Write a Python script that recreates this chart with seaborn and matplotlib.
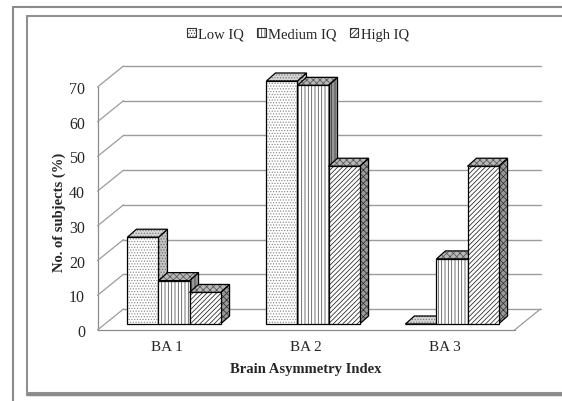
import numpy as np
import pandas as pd
import matplotlib
matplotlib.use('Agg')
import matplotlib.pyplot as plt
from matplotlib.patches import Polygon, Rectangle, Patch, ConnectionPatch
from matplotlib.lines import Line2D
from matplotlib.colors import to_hex
import seaborn as sns

# data (% of subjects)
categories = ['BA 1', 'BA 2', 'BA 3']
groups = ['Low IQ', 'Medium IQ', 'High IQ']
low_iq = [25.0, 70.0, 0.0]
medium_iq = [12.5, 68.75, 18.75]
high_iq = [9.09, 45.45, 45.45]
y_ticks = [0, 10, 20, 30, 40, 50, 60, 70]

df = pd.DataFrame({'BA': categories * 3,
                   'IQ': np.repeat(groups, len(categories)),
                   'pct': low_iq + medium_iq + high_iq})

sns.set_style('white')
plt.rcParams['font.family'] = ['Liberation Serif', 'DejaVu Serif']
plt.rcParams['hatch.linewidth'] = 0.55

# styles: (facecolor, hatch, hatch colour) for front / top / side faces
styles = {
    'Low IQ':    {'front': ('white', '......', '#8a8a8a'),
                  'top':   ('#d6d6d6', '......', '#7a7a7a'),
                  'side':  ('#c4c4c4', '......', '#666666')},
    'Medium IQ': {'front': ('white', '|||||', '#4a4a4a'),
                  'top':   ('#b8b8b8', 'xxxxx', '#555555'),
                  'side':  ('#9a9a9a', '|||||', '#333333')},
    'High IQ':   {'front': ('white', '///////', '#202020'),
                  'top':   ('#b8b8b8', 'xxxxx', '#555555'),
                  'side':  ('#999999', 'xxxxx', '#333333')},
}

W, H = 562, 402
fig = plt.figure(figsize=(W / 100, H / 100), dpi=100)


def box(left, bottom, right, top):
    # pixel box (origin top-left) -> figure fraction rect
    return [left / W, 1 - bottom / H, (right - left) / W, (bottom - top) / H]


# three planes of the fake 3d: back wall, front axis, bars in between
axb = fig.add_axes(box(123.5, 310, 540.5, 67))
axf = fig.add_axes(box(97.5, 331, 514.5, 88))
ax = fig.add_axes(box(104.5, 325, 521.5, 82))
for a in (axb, axf, ax):
    a.set_facecolor('none')
    a.set_xlim(-0.5, 2.5)
    a.set_ylim(0, 70)

# back wall gridlines
axb.set_yticks(y_ticks)
axb.set_xticks([])
axb.yaxis.grid(True, color='#9c9c9c', lw=1)
for gl in axb.get_ygridlines():
    gl.set_clip_on(False)
axb.tick_params(left=False, labelleft=False)
for s in axb.spines.values():
    s.set_visible(False)

# front axis with ticks and labels
axf.set_yticks(y_ticks)
axf.set_xticks(range(len(categories)), categories)
for s in ['top', 'right']:
    axf.spines[s].set_visible(False)
for s in ['left', 'bottom']:
    axf.spines[s].set_color('#8c8c8c')
    axf.spines[s].set_linewidth(0.9)
axf.tick_params(axis='y', length=4, width=0.9, color='#8c8c8c', pad=5, labelsize=11.5)
axf.tick_params(axis='x', length=0, pad=7, labelsize=11)
axf.set_ylabel('No. of subjects (%)', fontsize=10.5, fontweight='bold')
axf.yaxis.set_label_coords(-0.075, 0.49)
axf.set_xlabel('Brain Asymmetry Index', fontsize=10.5, fontweight='bold')
axf.xaxis.set_label_coords(0.5, -0.13)

# diagonal lines joining front axis and back wall
for v in y_ticks:
    fig.add_artist(ConnectionPatch((-0.5, v), (-0.5, v), 'data', 'data',
                                   axesA=axf, axesB=axb, color='#9c9c9c', lw=0.9))
fig.add_artist(ConnectionPatch((2.5, 0), (2.5, 0), 'data', 'data',
                               axesA=axf, axesB=axb, color='#9c9c9c', lw=0.9))

# bars (front faces) through seaborn
pal = dict(zip(groups, ['#ff0000', '#00ff00', '#0000ff']))
sns.barplot(data=df, x='BA', y='pct', hue='IQ', order=categories, hue_order=groups,
            palette=pal, saturation=1, width=0.67, legend=False, ax=ax)
ax.set_xlim(-0.5, 2.5)
ax.set_ylim(0, 70)
ax.set_xlabel('')
ax.set_ylabel('')
ax.set_xticks([])
ax.set_yticks([])
for s in ax.spines.values():
    s.set_visible(False)

color_to_group = {to_hex(c): g for g, c in pal.items()}
ddx = 9 / (ax.bbox.width / 3.0)   # bar depth, 9 px right
ddy = 8 / (ax.bbox.height / 70.0)  # and 8 px up

bars = sorted(ax.patches, key=lambda p: p.get_x())
for k, p in enumerate(bars):
    g = color_to_group[to_hex(p.get_facecolor())]
    x, w, h = p.get_x(), p.get_width(), p.get_height()
    z = 10 + 4 * k
    side = [(x + w, 0), (x + w + ddx, ddy), (x + w + ddx, h + ddy), (x + w, h)]
    top = [(x, h), (x + w, h), (x + w + ddx, h + ddy), (x + ddx, h + ddy)]
    for pts, (f, hh, c), zz in [(side, styles[g]['side'], z), (top, styles[g]['top'], z + 1)]:
        ax.add_patch(Polygon(pts, closed=True, facecolor=f, edgecolor=c, hatch=hh,
                             lw=0, zorder=zz, clip_on=False))
        ax.add_patch(Polygon(pts, closed=True, facecolor='none', edgecolor='black',
                             lw=0.9, zorder=zz + 0.5, clip_on=False))
    f, hh, c = styles[g]['front']
    p.set_facecolor(f)
    p.set_edgecolor(c)
    p.set_hatch(hh)
    p.set_linewidth(0)
    p.set_zorder(z + 2)
    p.set_clip_on(False)
    ax.add_patch(Rectangle((x, 0), w, h, facecolor='none', edgecolor='black',
                           lw=0.9, zorder=z + 3, clip_on=False))

# legend
handles = [Patch(facecolor='white', edgecolor='#333333', hatch=styles[g]['front'][1], lw=0.8)
           for g in groups]
fig.legend(handles, groups, loc='center', bbox_to_anchor=(298 / W, 1 - 35 / H), ncol=3,
           frameon=False, fontsize=10.5, handlelength=0.6, handleheight=0.6,
           handletextpad=0.15, columnspacing=0.9, borderaxespad=0)

# picture frames
fig.add_artist(Line2D([13 / W, 13 / W], [0, 1 - 8 / H], color='#8a8a8a', lw=1.5))
fig.add_artist(Line2D([13 / W, 1], [1 - 8 / H, 1 - 8 / H], color='#8a8a8a', lw=1.5))
fig.add_artist(Rectangle((27 / W, 1 - 394 / H), 1.2, (394 - 17) / H, fill=False,
                         edgecolor='#909090', lw=1.5))
fig.add_artist(Line2D([27 / W, 1], [1 - 394.5 / H, 1 - 394.5 / H], color='#8a8a8a', lw=2.5))

fig.savefig('out.png', dpi=100)
